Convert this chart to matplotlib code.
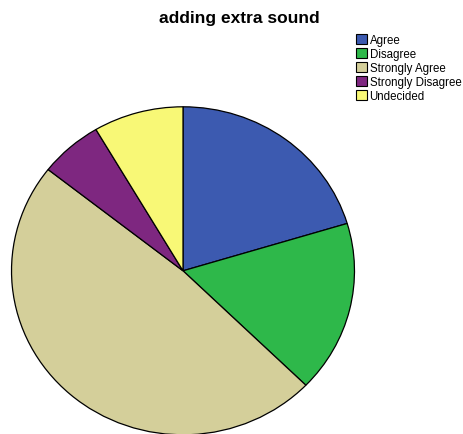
import matplotlib.pyplot as plt
from matplotlib.patches import Patch

labels = ['Agree', 'Disagree', 'Strongly Agree', 'Strongly Disagree', 'Undecided']
counts = [24, 20, 57, 7, 10]
colors = ['#3C5AB0', '#2EB84A', '#D4CF9A', '#7E2780', '#F8F876']

plt.rcParams['font.family'] = ['Liberation Sans', 'DejaVu Sans']

fig = plt.figure(figsize=(4.63, 4.35), dpi=100)
ax = fig.add_axes([11 / 463, -0.003, 344 / 463, 329 / 435])
ax.pie(counts, colors=colors, startangle=90, counterclock=False, radius=1,
       wedgeprops=dict(edgecolor='black', linewidth=0.9))
ax.set_aspect('auto')
ax.set_xlim(-1.003, 1.003)
ax.set_ylim(-1.003, 1.003)

fig.text(239 / 463, 1 - 18 / 435, 'adding extra sound', ha='center', va='center',
         fontsize=12.5, fontweight='bold')

handles = [Patch(facecolor=c, edgecolor='black', linewidth=0.8) for c in colors]
fig.legend(handles, labels, loc='upper left', bbox_to_anchor=(354 / 463, 1 - 33 / 435),
           frameon=False, fontsize=8.3, handlelength=0.95, handleheight=0.95,
           handletextpad=0.2, labelspacing=0.17, borderaxespad=0, borderpad=0.2)

fig.savefig('out.png', dpi=100)
